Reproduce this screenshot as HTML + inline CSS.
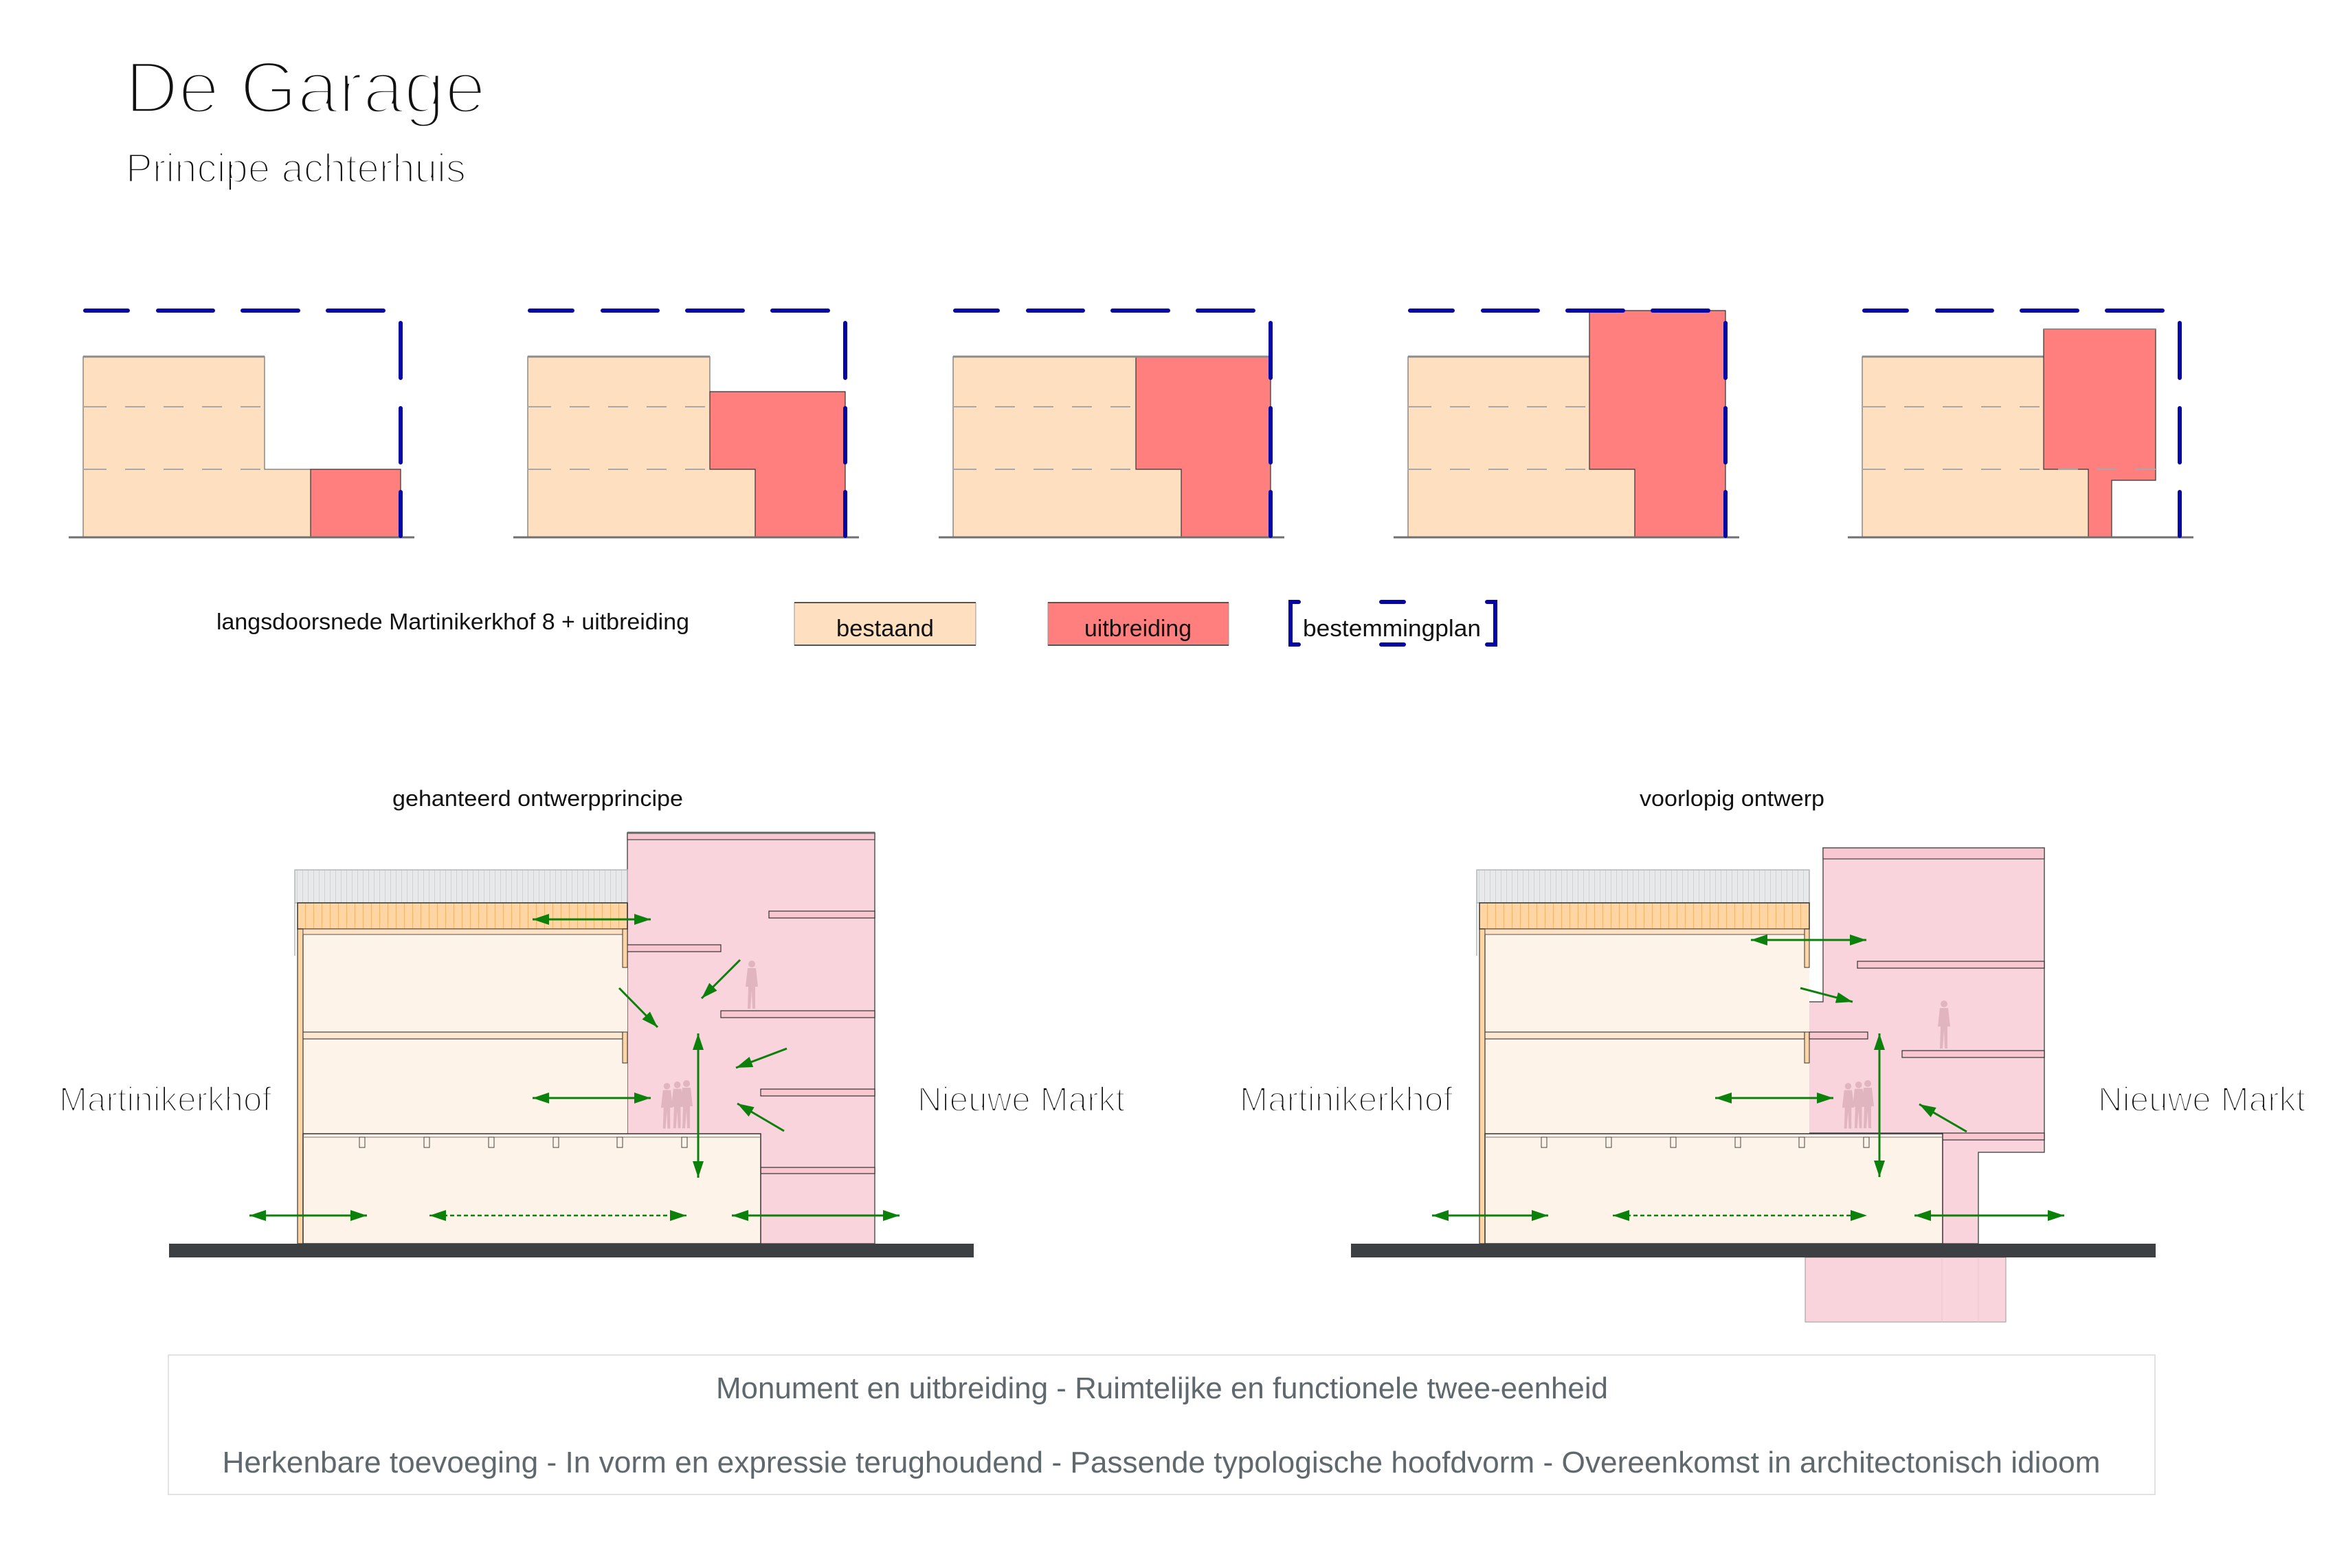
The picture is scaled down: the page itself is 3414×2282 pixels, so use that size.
<!DOCTYPE html>
<html>
<head>
<meta charset="utf-8">
<style>
  html,body{margin:0;padding:0;background:#fff;}
  svg{display:block;}
  text{font-family:"Liberation Sans", sans-serif;}
</style>
</head>
<body>
<svg xmlns="http://www.w3.org/2000/svg" width="3414" height="2282" viewBox="0 0 3414 2282">
  <defs>
    <pattern id="gstripe" width="8" height="10" patternUnits="userSpaceOnUse">
      <rect width="8" height="10" fill="#e8eaea"/>
      <line x1="0.5" y1="0" x2="0.5" y2="10" stroke="#cfd3d4" stroke-width="1"/>
    </pattern>
    <pattern id="ostripe" width="12" height="10" patternUnits="userSpaceOnUse">
      <rect width="12" height="10" fill="#ffd5a4"/>
      <line x1="0.5" y1="0" x2="0.5" y2="10" stroke="#f4b46c" stroke-width="1"/>
    </pattern>
    <marker id="ah" markerWidth="24" markerHeight="16" refX="24" refY="8" orient="auto-start-reverse" markerUnits="userSpaceOnUse">
      <path d="M0,0 L24,8 L0,16 z" fill="#0b800b"/>
    </marker>
    <g id="person">
      <circle cx="11" cy="5" r="5"/>
      <path d="M5,11 L17,11 L20,38 L16,38 L16,70 L12,70 L11,44 L9,70 L5,70 L6,38 L2,38 Z"/>
    </g>
    <g id="oldbuilding">
      <rect x="429" y="1266" width="484" height="48" fill="url(#gstripe)" stroke="#b2b6b7" stroke-width="1.5"/>
      <line x1="429" y1="1314" x2="429" y2="1391" stroke="#b2b6b7" stroke-width="1.5"/>
      <rect x="441" y="1352" width="472" height="300" fill="#fdf3e9"/>
      <rect x="433" y="1314" width="480" height="38" fill="url(#ostripe)" stroke="#333" stroke-width="1.5"/>
      <rect x="433" y="1352" width="8" height="458" fill="#ffd5a4" stroke="#333" stroke-width="1.2"/>
      <rect x="441" y="1352" width="465" height="8" fill="#fee1c4" stroke="#555" stroke-width="1"/>
      <rect x="906" y="1352" width="7" height="56" fill="#ffd5a4" stroke="#333" stroke-width="1"/>
      <rect x="441" y="1502" width="465" height="10" fill="#fee7d0" stroke="#444" stroke-width="1.2"/>
      <rect x="906" y="1502" width="7" height="45" fill="#ffd5a4" stroke="#333" stroke-width="1"/>
    </g>
    <g id="lowerblock">
      <rect x="441" y="1650" width="666" height="160" fill="#fdf3e9" stroke="#333" stroke-width="1.5"/>
      <line x1="441" y1="1655" x2="1107" y2="1655" stroke="#777" stroke-width="1"/>
      <g fill="#fdf3e9" stroke="#444" stroke-width="1">
        <rect x="523" y="1655" width="8" height="15"/>
        <rect x="617" y="1655" width="8" height="15"/>
        <rect x="711" y="1655" width="8" height="15"/>
        <rect x="805" y="1655" width="8" height="15"/>
        <rect x="898" y="1655" width="8" height="15"/>
        <rect x="992" y="1655" width="8" height="15"/>
      </g>
    </g>
  </defs>

  <rect width="3414" height="2282" fill="#fff"/>

  <text x="182" y="164" font-size="107" fill="#111" stroke="#fff" stroke-width="5.5" textLength="525" lengthAdjust="spacingAndGlyphs">De Garage</text>
  <text x="183" y="265" font-size="59" fill="#111" stroke="#fff" stroke-width="3" textLength="495" lengthAdjust="spacingAndGlyphs">Principe achterhuis</text>

  <g stroke-linejoin="miter">
    <!-- D1 -->
    <polygon points="121,519 385,519 385,683 452,683 452,782 121,782" fill="#fedfc0" stroke="#555" stroke-width="1"/>
    <line x1="121" y1="519" x2="385" y2="519" stroke="#8c8c8c" stroke-width="3"/>
    <polygon points="452,683 583,683 583,782 452,782" fill="#ff7f7f" stroke="#333" stroke-width="1.2"/>
    <g stroke="#a8a8a8" stroke-width="2" stroke-dasharray="34 27 29 27 29 27 29 27 29 27 29 27 29 27">
      <line x1="121" y1="592" x2="385" y2="592"/>
      <line x1="121" y1="683" x2="385" y2="683"/>
    </g>
    <line x1="100" y1="782" x2="603" y2="782" stroke="#707070" stroke-width="3"/>
    <path d="M124,452H186 M230,452H310 M353,452H434 M477,452H558 M583,470V550 M583,594V673 M583,716V780" stroke="#0505a5" stroke-width="6" stroke-linecap="round" fill="none"/>

    <!-- D2 -->
    <polygon points="768,519 1033,519 1033,683 1099,683 1099,782 768,782" fill="#fedfc0" stroke="#555" stroke-width="1"/>
    <line x1="768" y1="519" x2="1033" y2="519" stroke="#8c8c8c" stroke-width="3"/>
    <polygon points="1033,570 1230,570 1230,782 1099,782 1099,683 1033,683" fill="#ff7f7f" stroke="#333" stroke-width="1.2"/>
    <g stroke="#a8a8a8" stroke-width="2" stroke-dasharray="34 27 29 27 29 27 29 27 29 27 29 27 29 27">
      <line x1="768" y1="592" x2="1033" y2="592"/>
      <line x1="768" y1="683" x2="1033" y2="683"/>
    </g>
    <line x1="747" y1="782" x2="1250" y2="782" stroke="#707070" stroke-width="3"/>
    <path d="M771,452H833 M877,452H957 M1000,452H1081 M1124,452H1205 M1230,470V550 M1230,594V673 M1230,716V780" stroke="#0505a5" stroke-width="6" stroke-linecap="round" fill="none"/>

    <!-- D3 -->
    <polygon points="1387,519 1653,519 1653,683 1719,683 1719,782 1387,782" fill="#fedfc0" stroke="#555" stroke-width="1"/>
    <polygon points="1653,519 1849,519 1849,782 1719,782 1719,683 1653,683" fill="#ff7f7f" stroke="#333" stroke-width="1.2"/>
    <line x1="1387" y1="519" x2="1849" y2="519" stroke="#8c8c8c" stroke-width="3"/>
    <g stroke="#a8a8a8" stroke-width="2" stroke-dasharray="34 27 29 27 29 27 29 27 29 27 29 27 29 27">
      <line x1="1387" y1="592" x2="1653" y2="592"/>
      <line x1="1387" y1="683" x2="1653" y2="683"/>
    </g>
    <line x1="1366" y1="782" x2="1869" y2="782" stroke="#707070" stroke-width="3"/>
    <path d="M1390,452H1452 M1496,452H1576 M1619,452H1700 M1743,452H1824 M1849,470V550 M1849,594V673 M1849,716V780" stroke="#0505a5" stroke-width="6" stroke-linecap="round" fill="none"/>

    <!-- D4 -->
    <polygon points="2049,519 2313,519 2313,683 2379,683 2379,782 2049,782" fill="#fedfc0" stroke="#555" stroke-width="1"/>
    <line x1="2049" y1="519" x2="2313" y2="519" stroke="#8c8c8c" stroke-width="3"/>
    <polygon points="2313,452 2511,452 2511,782 2379,782 2379,683 2313,683" fill="#ff7f7f" stroke="#333" stroke-width="1.2"/>
    <g stroke="#a8a8a8" stroke-width="2" stroke-dasharray="34 27 29 27 29 27 29 27 29 27 29 27 29 27">
      <line x1="2049" y1="592" x2="2313" y2="592"/>
      <line x1="2049" y1="683" x2="2313" y2="683"/>
    </g>
    <line x1="2028" y1="782" x2="2531" y2="782" stroke="#707070" stroke-width="3"/>
    <path d="M2052,452H2114 M2158,452H2238 M2281,452H2362 M2405,452H2486 M2511,470V550 M2511,594V673 M2511,716V780" stroke="#0505a5" stroke-width="6" stroke-linecap="round" fill="none"/>

    <!-- D5 -->
    <polygon points="2710,519 2974,519 2974,683 3039,683 3039,782 2710,782" fill="#fedfc0" stroke="#555" stroke-width="1"/>
    <line x1="2710" y1="519" x2="2974" y2="519" stroke="#8c8c8c" stroke-width="3"/>
    <polygon points="2974,479 3137,479 3137,699 3073,699 3073,782 3039,782 3039,683 2974,683" fill="#ff7f7f" stroke="#333" stroke-width="1.2"/>
    <line x1="2974" y1="479" x2="3137" y2="479" stroke="#8c8c8c" stroke-width="2"/>
    <g stroke="#a8a8a8" stroke-width="2" stroke-dasharray="34 27 29 27 29 27 29 27 29 27 29 27 29 27">
      <line x1="2710" y1="592" x2="2974" y2="592"/>
      <line x1="2710" y1="683" x2="3137" y2="683"/>
    </g>
    <line x1="2689" y1="782" x2="3192" y2="782" stroke="#707070" stroke-width="3"/>
    <path d="M2713,452H2775 M2819,452H2899 M2942,452H3023 M3066,452H3147 M3172,470V550 M3172,594V673 M3172,716V780" stroke="#0505a5" stroke-width="6" stroke-linecap="round" fill="none"/>
  </g>

  <text x="315" y="916" font-size="33" fill="#111" textLength="688" lengthAdjust="spacingAndGlyphs">langsdoorsnede Martinikerkhof 8 + uitbreiding</text>
  <rect x="1156" y="877" width="264" height="62" fill="#fedfc0" stroke="#999" stroke-width="1"/>
  <line x1="1156" y1="877" x2="1420" y2="877" stroke="#555" stroke-width="2"/>
  <line x1="1156" y1="939" x2="1420" y2="939" stroke="#555" stroke-width="2"/>
  <text x="1288" y="926" font-size="34" fill="#111" text-anchor="middle" textLength="142" lengthAdjust="spacingAndGlyphs">bestaand</text>
  <rect x="1525" y="877" width="263" height="62" fill="#ff7f7f" stroke="#999" stroke-width="1"/>
  <line x1="1525" y1="877" x2="1788" y2="877" stroke="#555" stroke-width="2"/>
  <line x1="1525" y1="939" x2="1788" y2="939" stroke="#555" stroke-width="2"/>
  <text x="1656" y="926" font-size="34" fill="#111" text-anchor="middle" textLength="156" lengthAdjust="spacingAndGlyphs">uitbreiding</text>
  <path d="M1890,876H1878V938H1890 M2010,876H2043 M2010,938H2043 M2164,876H2176V938H2164" stroke="#0505a5" stroke-width="6" stroke-linecap="round" fill="none"/>
  <text x="1896" y="926" font-size="34" fill="#111" textLength="259" lengthAdjust="spacingAndGlyphs">bestemmingplan</text>

  <text x="571" y="1173" font-size="32" fill="#111" textLength="423" lengthAdjust="spacingAndGlyphs">gehanteerd ontwerpprincipe</text>
  <text x="2386" y="1173" font-size="32" fill="#111" textLength="269" lengthAdjust="spacingAndGlyphs">voorlopig ontwerp</text>

  <!-- LEFT SECTION -->
  <rect x="913" y="1212" width="360" height="598" fill="#fad4dc" stroke="#555" stroke-width="1.5"/>
  <rect x="913" y="1212" width="360" height="10" fill="#f8c8d2" stroke="#444" stroke-width="1.2"/>
  <line x1="913" y1="1212" x2="1273" y2="1212" stroke="#666" stroke-width="3"/>
  <g fill="#f8c7d0" stroke="#333" stroke-width="1.2">
    <rect x="1119" y="1326" width="154" height="10"/>
    <rect x="913" y="1375" width="136" height="10"/>
    <rect x="1049" y="1471" width="224" height="10"/>
    <rect x="1107" y="1585" width="166" height="10"/>
    <rect x="1107" y="1699" width="166" height="9"/>
  </g>
  <use href="#oldbuilding"/>
  <use href="#lowerblock"/>
  <g fill="#dcb0ba" opacity="0.85">
    <use href="#person" transform="translate(1083,1398)"/>
    <use href="#person" transform="translate(960,1576) scale(0.95)"/>
    <use href="#person" transform="translate(975,1574) scale(0.97)"/>
    <use href="#person" transform="translate(988,1572)"/>
  </g>
  <rect x="246" y="1810" width="1171" height="20" fill="#3c4043"/>
  <g stroke="#0b800b" stroke-width="3" fill="none">
    <line x1="775" y1="1338" x2="947" y2="1338" marker-start="url(#ah)" marker-end="url(#ah)"/>
    <line x1="775" y1="1598" x2="947" y2="1598" marker-start="url(#ah)" marker-end="url(#ah)"/>
    <line x1="363" y1="1769" x2="534" y2="1769" marker-start="url(#ah)" marker-end="url(#ah)"/>
    <line x1="625" y1="1769" x2="999" y2="1769" stroke-width="2.5" stroke-dasharray="6 4" marker-start="url(#ah)" marker-end="url(#ah)"/>
    <line x1="1065" y1="1769" x2="1309" y2="1769" marker-start="url(#ah)" marker-end="url(#ah)"/>
    <line x1="1016" y1="1504" x2="1016" y2="1714" marker-start="url(#ah)" marker-end="url(#ah)"/>
    <line x1="1077" y1="1397" x2="1021" y2="1453" marker-end="url(#ah)"/>
    <line x1="901" y1="1438" x2="957" y2="1495" marker-end="url(#ah)"/>
    <line x1="1145" y1="1526" x2="1071" y2="1554" marker-end="url(#ah)"/>
    <line x1="1141" y1="1646" x2="1073" y2="1606" marker-end="url(#ah)"/>
  </g>
  <text x="86" y="1617" font-size="50" fill="#111" stroke="#fff" stroke-width="2.6" textLength="309" lengthAdjust="spacingAndGlyphs">Martinikerkhof</text>
  <text x="1335" y="1617" font-size="50" fill="#111" stroke="#fff" stroke-width="2.6" textLength="302" lengthAdjust="spacingAndGlyphs">Nieuwe Markt</text>

  <!-- RIGHT SECTION -->
  <rect x="2627" y="1830" width="292" height="94" fill="#fad4dc" stroke="#999" stroke-width="1"/>
  <line x1="2826" y1="1830" x2="2826" y2="1924" stroke="#efc3cc" stroke-width="1"/>
  <line x1="2879" y1="1830" x2="2879" y2="1924" stroke="#efc3cc" stroke-width="1"/>
  <polygon points="2653,1234 2975,1234 2975,1677 2879,1677 2879,1810 2826,1810 2826,1649 2632,1649 2632,1458 2653,1458" fill="#fad4dc" stroke="#555" stroke-width="1.5"/>
  <rect x="2653" y="1234" width="322" height="16" fill="#f8c8d2" stroke="#444" stroke-width="1.2"/>
  <g fill="#f8c7d0" stroke="#333" stroke-width="1.2">
    <rect x="2703" y="1399" width="272" height="10"/>
    <rect x="2768" y="1529" width="207" height="10"/>
    <rect x="2826" y="1649" width="149" height="10"/>
  </g>
  <g transform="translate(1720,0)">
    <use href="#oldbuilding"/>
    <use href="#lowerblock"/>
  </g>
  <rect x="2633" y="1502" width="85" height="10" fill="#f8c7d0" stroke="#333" stroke-width="1.2"/>
  <g fill="#dcb0ba" opacity="0.85">
    <use href="#person" transform="translate(2818,1456)"/>
    <use href="#person" transform="translate(2679,1576) scale(0.95)"/>
    <use href="#person" transform="translate(2694,1574) scale(0.97)"/>
    <use href="#person" transform="translate(2707,1572)"/>
  </g>
  <rect x="1966" y="1810" width="1171" height="20" fill="#3c4043"/>
  <g stroke="#0b800b" stroke-width="3" fill="none">
    <line x1="2548" y1="1368" x2="2716" y2="1368" marker-start="url(#ah)" marker-end="url(#ah)"/>
    <line x1="2620" y1="1438" x2="2696" y2="1458" marker-end="url(#ah)"/>
    <line x1="2735" y1="1504" x2="2735" y2="1713" marker-start="url(#ah)" marker-end="url(#ah)"/>
    <line x1="2496" y1="1598" x2="2668" y2="1598" marker-start="url(#ah)" marker-end="url(#ah)"/>
    <line x1="2862" y1="1647" x2="2793" y2="1607" marker-end="url(#ah)"/>
    <line x1="2084" y1="1769" x2="2253" y2="1769" marker-start="url(#ah)" marker-end="url(#ah)"/>
    <line x1="2347" y1="1769" x2="2717" y2="1769" stroke-width="2.5" stroke-dasharray="6 4" marker-start="url(#ah)" marker-end="url(#ah)"/>
    <line x1="2786" y1="1769" x2="3004" y2="1769" marker-start="url(#ah)" marker-end="url(#ah)"/>
  </g>
  <text x="1804" y="1617" font-size="50" fill="#111" stroke="#fff" stroke-width="2.6" textLength="310" lengthAdjust="spacingAndGlyphs">Martinikerkhof</text>
  <text x="3053" y="1617" font-size="50" fill="#111" stroke="#fff" stroke-width="2.6" textLength="302" lengthAdjust="spacingAndGlyphs">Nieuwe Markt</text>

  <!-- Bottom text box -->
  <rect x="245" y="1972" width="2891" height="203" fill="#fff" stroke="#e0e2e3" stroke-width="2"/>
  <text x="1691" y="2035" font-size="44" fill="#5f686c" text-anchor="middle" textLength="1298" lengthAdjust="spacingAndGlyphs">Monument en uitbreiding - Ruimtelijke en functionele twee-eenheid</text>
  <text x="1690" y="2143" font-size="44" fill="#5f686c" text-anchor="middle" textLength="2733" lengthAdjust="spacingAndGlyphs">Herkenbare toevoeging - In vorm en expressie terughoudend - Passende typologische hoofdvorm - Overeenkomst in architectonisch idioom</text>
</svg>
</body>
</html>
